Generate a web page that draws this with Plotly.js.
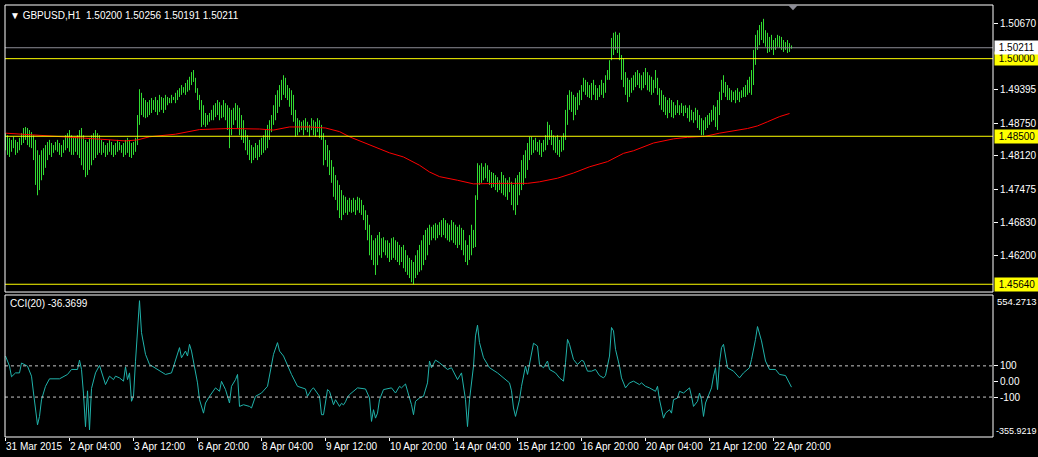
<!DOCTYPE html>
<html>
<head>
<meta charset="utf-8">
<script src="https://cdn.plot.ly/plotly-3.0.1.min.js"></script>
<style>
html,body{margin:0;padding:0;background:#000;}
#chart{width:1038px;height:457px;}
</style>
</head>
<body>
<div id="chart"></div>
<script>
// ---- GBPUSD H1 bars (bar index 0 = 31 Mar 2015 20:00) ----
const barHigh = [
1.4856,1.4852,1.4847,1.4843,1.4849,1.4843,1.4839,1.4847,1.4856,1.4866,
1.4868,1.4866,1.4862,1.4858,1.4852,1.4843,1.4823,1.4814,1.4823,1.4827,
1.4833,1.4839,1.4843,1.4837,1.4833,1.4839,1.4843,1.4837,1.4833,1.4843,
1.4852,1.4856,1.4862,1.4852,1.4847,1.4849,1.4852,1.4862,1.4866,1.4852,
1.4843,1.4839,1.4847,1.4852,1.4856,1.4862,1.4856,1.4852,1.4843,1.4839,
1.4833,1.4837,1.4843,1.4839,1.4833,1.4837,1.4843,1.4839,1.4833,1.4837,
1.4843,1.4847,1.4843,1.4837,1.4839,1.4847,1.4891,1.4941,1.4934,1.4924,
1.4920,1.4916,1.4920,1.4924,1.4920,1.4926,1.4920,1.4930,1.4926,1.4924,
1.4930,1.4926,1.4924,1.4930,1.4926,1.4934,1.4939,1.4943,1.4949,1.4945,
1.4953,1.4959,1.4965,1.4974,1.4978,1.4963,1.4943,1.4930,1.4920,1.4910,
1.4895,1.4891,1.4895,1.4901,1.4910,1.4914,1.4920,1.4916,1.4910,1.4920,
1.4914,1.4910,1.4905,1.4901,1.4905,1.4914,1.4910,1.4905,1.4891,1.4881,
1.4862,1.4852,1.4843,1.4833,1.4829,1.4837,1.4833,1.4843,1.4847,1.4852,
1.4862,1.4872,1.4881,1.4891,1.4910,1.4930,1.4939,1.4949,1.4959,1.4968,
1.4963,1.4949,1.4943,1.4939,1.4930,1.4901,1.4885,1.4881,1.4878,1.4881,
1.4885,1.4878,1.4872,1.4885,1.4881,1.4878,1.4885,1.4881,1.4872,1.4856,
1.4843,1.4833,1.4823,1.4804,1.4791,1.4775,1.4765,1.4756,1.4746,1.4736,
1.4733,1.4727,1.4731,1.4727,1.4731,1.4727,1.4733,1.4731,1.4727,1.4717,
1.4707,1.4698,1.4679,1.4659,1.4649,1.4653,1.4659,1.4665,1.4653,1.4655,
1.4649,1.4649,1.4644,1.4653,1.4655,1.4649,1.4646,1.4640,1.4636,1.4640,
1.4630,1.4620,1.4615,1.4611,1.4607,1.4620,1.4630,1.4640,1.4649,1.4659,
1.4669,1.4673,1.4679,1.4675,1.4679,1.4682,1.4679,1.4684,1.4688,1.4692,
1.4688,1.4682,1.4679,1.4688,1.4684,1.4679,1.4675,1.4679,1.4673,1.4669,
1.4649,1.4640,1.4659,1.4679,1.4669,1.4736,1.4798,1.4794,1.4798,1.4791,
1.4798,1.4794,1.4785,1.4781,1.4779,1.4775,1.4771,1.4765,1.4781,1.4775,
1.4769,1.4765,1.4771,1.4762,1.4756,1.4769,1.4775,1.4781,1.4804,1.4814,
1.4823,1.4837,1.4849,1.4849,1.4843,1.4847,1.4839,1.4843,1.4837,1.4843,
1.4852,1.4878,1.4872,1.4862,1.4852,1.4849,1.4852,1.4843,1.4849,1.4856,
1.4901,1.4930,1.4939,1.4936,1.4930,1.4926,1.4934,1.4939,1.4949,1.4963,
1.4959,1.4955,1.4949,1.4953,1.4959,1.4949,1.4943,1.4949,1.4959,1.4953,
1.4968,1.4978,1.4997,1.5040,1.5050,1.5052,1.5046,1.5050,1.5007,1.5001,
1.4974,1.4963,1.4959,1.4963,1.4968,1.4974,1.4978,1.4972,1.4968,1.4974,
1.4982,1.4974,1.4968,1.4965,1.4959,1.4978,1.4963,1.4943,1.4939,1.4930,
1.4926,1.4920,1.4924,1.4920,1.4916,1.4910,1.4920,1.4910,1.4914,1.4909,
1.4910,1.4905,1.4910,1.4901,1.4897,1.4905,1.4901,1.4891,1.4885,1.4881,
1.4887,1.4891,1.4895,1.4901,1.4910,1.4907,1.4920,1.4936,1.4959,1.4968,
1.4955,1.4949,1.4943,1.4939,1.4936,1.4939,1.4943,1.4936,1.4939,1.4945,
1.4949,1.4959,1.4965,1.4978,1.5017,1.5046,1.5055,1.5065,1.5071,1.5077,
1.5055,1.5050,1.5042,1.5046,1.5036,1.5040,1.5046,1.5044,1.5042,1.5036,
1.5032,1.5036,1.5030,1.50256
];
const barLow = [
1.4823,1.4814,1.4810,1.4820,1.4827,1.4814,1.4818,1.4823,1.4833,1.4837,
1.4843,1.4833,1.4829,1.4827,1.4804,1.4756,1.4736,1.4746,1.4765,1.4775,
1.4789,1.4804,1.4814,1.4810,1.4818,1.4823,1.4820,1.4814,1.4810,1.4818,
1.4823,1.4827,1.4820,1.4814,1.4814,1.4820,1.4814,1.4808,1.4794,1.4785,
1.4771,1.4775,1.4785,1.4794,1.4804,1.4808,1.4814,1.4818,1.4814,1.4818,
1.4810,1.4814,1.4820,1.4814,1.4810,1.4814,1.4820,1.4823,1.4818,1.4810,
1.4814,1.4818,1.4810,1.4808,1.4814,1.4820,1.4833,1.4872,1.4891,1.4887,
1.4885,1.4887,1.4891,1.4895,1.4901,1.4897,1.4891,1.4897,1.4901,1.4895,
1.4901,1.4910,1.4914,1.4914,1.4920,1.4914,1.4920,1.4926,1.4930,1.4934,
1.4930,1.4936,1.4939,1.4949,1.4955,1.4934,1.4920,1.4901,1.4868,1.4872,
1.4868,1.4872,1.4878,1.4881,1.4881,1.4887,1.4891,1.4881,1.4885,1.4887,
1.4881,1.4862,1.4827,1.4852,1.4872,1.4881,1.4866,1.4852,1.4843,1.4837,
1.4823,1.4814,1.4804,1.4798,1.4804,1.4808,1.4804,1.4810,1.4814,1.4818,
1.4823,1.4827,1.4843,1.4858,1.4872,1.4881,1.4895,1.4907,1.4920,1.4930,
1.4924,1.4920,1.4907,1.4891,1.4878,1.4849,1.4852,1.4858,1.4862,1.4852,
1.4862,1.4858,1.4849,1.4862,1.4852,1.4849,1.4858,1.4847,1.4843,1.4794,
1.4804,1.4791,1.4775,1.4760,1.4733,1.4727,1.4707,1.4692,1.4688,1.4698,
1.4702,1.4698,1.4704,1.4702,1.4704,1.4698,1.4707,1.4702,1.4698,1.4688,
1.4669,1.4649,1.4620,1.4611,1.4601,1.4582,1.4601,1.4620,1.4615,1.4626,
1.4620,1.4615,1.4607,1.4611,1.4615,1.4611,1.4607,1.4601,1.4607,1.4595,
1.4588,1.4582,1.4576,1.4568,1.4564,1.4576,1.4582,1.4588,1.4591,1.4601,
1.4611,1.4620,1.4640,1.4649,1.4653,1.4649,1.4653,1.4659,1.4655,1.4659,
1.4653,1.4649,1.4646,1.4649,1.4644,1.4640,1.4634,1.4640,1.4630,1.4620,
1.4607,1.4601,1.4611,1.4620,1.4634,1.4636,1.4727,1.4756,1.4760,1.4765,
1.4769,1.4762,1.4756,1.4750,1.4752,1.4746,1.4742,1.4746,1.4740,1.4736,
1.4733,1.4727,1.4742,1.4717,1.4707,1.4698,1.4717,1.4736,1.4746,1.4756,
1.4769,1.4785,1.4804,1.4814,1.4818,1.4823,1.4820,1.4814,1.4810,1.4820,
1.4823,1.4833,1.4843,1.4833,1.4823,1.4818,1.4814,1.4810,1.4820,1.4823,
1.4843,1.4872,1.4901,1.4897,1.4881,1.4891,1.4901,1.4910,1.4920,1.4936,
1.4930,1.4926,1.4924,1.4920,1.4930,1.4920,1.4920,1.4926,1.4930,1.4924,
1.4934,1.4959,1.4959,1.4997,1.5007,1.5017,1.5011,1.4997,1.4959,1.4945,
1.4930,1.4916,1.4926,1.4934,1.4939,1.4945,1.4949,1.4943,1.4939,1.4943,
1.4949,1.4939,1.4936,1.4930,1.4934,1.4943,1.4930,1.4910,1.4901,1.4897,
1.4891,1.4885,1.4895,1.4887,1.4885,1.4891,1.4895,1.4891,1.4895,1.4889,
1.4895,1.4885,1.4878,1.4881,1.4876,1.4881,1.4866,1.4862,1.4852,1.4852,
1.4862,1.4866,1.4872,1.4878,1.4881,1.4868,1.4862,1.4891,1.4920,1.4934,
1.4926,1.4920,1.4920,1.4916,1.4920,1.4914,1.4920,1.4916,1.4924,1.4926,
1.4926,1.4930,1.4934,1.4930,1.4949,1.4988,1.5017,1.5026,1.5036,1.5030,
1.5023,1.5011,1.5013,1.5017,1.5007,1.5017,1.5023,1.5021,1.5017,1.5013,
1.5017,1.5011,1.5013,1.50191
];

// ---- Moving average (red), sampled at bar indices ----
const maIdx = [0,18,32,45,60,66,72,85,97,112,127,134,142,152,160,167,172,184,192,199,207,212,217,226,234,247,261,267,276,284,292,301,309,314,324,334,341,350,357,371,376,381,387,392];
const maVal = [1.4856,1.4852,1.4849,1.4845,1.4841,1.4843,1.4849,1.4854,1.4863,1.4865,1.4864,1.4862,1.4868,1.4868,1.4866,1.4859,1.4849,1.4830,1.4818,1.4810,1.4794,1.4781,1.4772,1.4765,1.4758,1.4759,1.4759,1.4762,1.4769,1.4779,1.4791,1.4801,1.4817,1.4822,1.4837,1.4845,1.4848,1.4850,1.4856,1.4865,1.4870,1.4878,1.4888,1.4894];

// ---- CCI(20) ----
const cciIdx = [0,2,3,5,7,8,11,13,14,16,17,18,20,22,27,31,33,36,37,38,39,40,41,42,43,45,47,48,50,52,54,55,57,59,60,61,62,63,64,65,67,68,70,72,76,80,83,86,87,88,90,91,92,93,96,97,99,100,102,105,107,108,110,112,113,115,116,117,119,122,123,125,128,131,133,134,136,137,139,141,143,146,148,150,151,153,154,157,158,159,161,162,164,165,167,168,169,170,171,172,176,180,182,183,184,185,186,187,189,192,193,195,197,198,200,202,203,204,205,207,209,211,212,213,215,217,221,223,226,228,229,230,231,232,234,235,236,237,239,242,246,249,252,253,254,255,257,258,260,261,263,264,266,267,269,271,272,275,277,279,280,281,282,284,286,288,289,291,293,295,297,299,300,302,303,304,305,307,308,310,312,314,317,318,320,322,325,326,327,329,330,331,332,333,334,336,337,339,340,342,343,344,346,347,348,349,350,352,353,354,355,356,357,358,359,361,364,367,369,372,373,375,376,378,380,382,385,387,390,393];
const cciVal = [163,98,30,55,55,118,98,34,-74,-278,-224,-117,-31,17,17,45,77,77,137,77,-80,-290,-60,-310,-45,55,103,66,-20,34,12,34,23,2,94,12,55,-127,-95,130,518,313,174,109,77,45,55,174,217,152,195,163,238,195,-9,-117,-203,-138,-95,-41,-63,1,-52,-138,-31,12,45,-160,-149,-160,-170,-95,-74,-31,98,174,249,195,163,98,45,-31,-41,-48,-95,-52,-41,-95,-213,-213,-52,-63,-149,-117,-160,-140,-150,-130,-100,-84,-41,-48,-106,-256,-181,-235,-203,-117,-52,-41,-41,-74,-31,-41,-16,-106,-149,-213,-127,-106,-95,-9,131,88,137,120,77,88,12,55,-31,-117,-289,-117,98,292,361,249,152,88,55,23,-9,-60,-170,-224,-117,-31,98,45,174,245,227,109,88,131,77,55,23,2,120,270,238,141,109,135,131,66,66,77,38,23,38,163,346,324,206,98,23,-41,-9,2,-20,-9,-31,-41,-63,-31,-117,-235,-203,-190,-181,-203,-117,-106,-63,-74,-63,-41,-95,-160,-127,-74,-117,-224,-138,-74,-41,34,88,-52,120,217,238,88,66,23,55,88,141,270,352,260,131,77,77,45,38,-36.3699];

// ---- axis labels & levels ----
const timeTickIdx = [0,32,64,96,128,160,192,224,256,288,320,352,384];
const timeTickText = ["31 Mar 2015","2 Apr 04:00","3 Apr 12:00","6 Apr 20:00","8 Apr 04:00","9 Apr 12:00","10 Apr 20:00","14 Apr 04:00","15 Apr 12:00","16 Apr 20:00","20 Apr 04:00","21 Apr 12:00","22 Apr 20:00"];
const priceTicks = [1.50670,1.49395,1.48750,1.48120,1.47475,1.46830,1.46200];
const levels = [1.50000,1.48500,1.45640];
const bidPrice = 1.50211;
const cciTicks = [100,0,-100];
const cciTickText = ["100","0.00","-100"];
const cciMax = 554.2713, cciMin = -355.9219;
const cciLevels = [100,-100];
const headerText = "GBPUSD,H1\u00a0\u00a01.50200 1.50256 1.50191 1.50211";
const cciLabel = "CCI(20) -36.3699";

// build bar segments
const bx = [], by = [];
for (let i = 0; i < barHigh.length; i++) {
  bx.push(i, i, null);
  by.push(barLow[i], barHigh[i], null);
}

const FONT = "Liberation Sans, Arial, sans-serif";
const mainDomain = [0.3356, 1];
const cciDomain = [0, 0.3287];

const traces = [
  {type:'scatter', mode:'lines', x:bx, y:by, xaxis:'x', yaxis:'y',
   line:{color:'#32dc32', width:1}, hoverinfo:'skip', connectgaps:false},
  {type:'scatter', mode:'lines', x:maIdx, y:maVal, xaxis:'x', yaxis:'y',
   line:{color:'#ff0000', width:1}, hoverinfo:'skip'},
  {type:'scatter', mode:'lines', x:cciIdx, y:cciVal, xaxis:'x', yaxis:'y2',
   line:{color:'#20b2aa', width:1}, hoverinfo:'skip'}
];

const shapes = [];
levels.forEach(v => shapes.push({type:'line', xref:'paper', x0:0, x1:1, yref:'y', y0:v, y1:v, line:{color:'#ffff00', width:1}}));
shapes.push({type:'line', xref:'paper', x0:0, x1:1, yref:'y', y0:bidPrice, y1:bidPrice, line:{color:'#8c8c96', width:1}});
cciLevels.forEach(v => shapes.push({type:'line', xref:'paper', x0:0, x1:1, yref:'y2', y0:v, y1:v, line:{color:'#c8c8c8', width:1, dash:'3px,3px'}}));
shapes.push({type:'rect', xref:'paper', x0:0, x1:1, yref:'paper', y0:mainDomain[0], y1:mainDomain[1], line:{color:'#ffffff', width:1}});
shapes.push({type:'rect', xref:'paper', x0:0, x1:1, yref:'paper', y0:cciDomain[0], y1:cciDomain[1], line:{color:'#ffffff', width:1}});
// chart-shift marker
shapes.push({type:'path', xref:'paper', yref:'paper', path:'M 0.7925 1.0 L 0.8026 1.0 L 0.7976 0.988 Z', fillcolor:'#8c8c96', line:{width:0}});

const annotations = [];
annotations.push({xref:'paper', yref:'paper', x:0, y:1, xanchor:'left', yanchor:'top', xshift:3, yshift:-3, showarrow:false,
  text:'\u25BC\u00a0'+headerText, font:{family:FONT, size:10, color:'#ffffff'}});
annotations.push({xref:'paper', yref:'paper', x:0, y:cciDomain[1], xanchor:'left', yanchor:'top', xshift:3, yshift:-1, showarrow:false,
  text:cciLabel, font:{family:FONT, size:10, color:'#ffffff'}});
levels.forEach(v => annotations.push({xref:'paper', x:1, yref:'y', y:v, xanchor:'left', yanchor:'middle', xshift:1, showarrow:false,
  text:'\u00a0'+v.toFixed(5)+'\u00a0', bgcolor:'#ffff00', borderpad:1, font:{family:FONT, size:10, color:'#000000'}}));
annotations.push({xref:'paper', x:1, yref:'y', y:bidPrice, xanchor:'left', yanchor:'middle', xshift:1, showarrow:false,
  text:'\u00a0'+bidPrice.toFixed(5)+'\u00a0', bgcolor:'#ffffff', borderpad:1, font:{family:FONT, size:10, color:'#000000'}});
annotations.push({xref:'paper', x:1, yref:'y2', y:cciMax, xanchor:'left', yanchor:'top', xshift:2, yshift:1, showarrow:false,
  text:cciMax.toFixed(4), font:{family:FONT, size:9.5, color:'#ffffff'}});
annotations.push({xref:'paper', x:1, yref:'y2', y:cciMin, xanchor:'left', yanchor:'bottom', xshift:1, yshift:-1, showarrow:false,
  text:cciMin.toFixed(4), font:{family:FONT, size:9, color:'#ffffff'}});

const layout = {
  width:1038, height:457,
  paper_bgcolor:'#000000', plot_bgcolor:'#000000',
  margin:{l:5, r:45, t:5, b:20},
  showlegend:false,
  font:{family:FONT, size:10, color:'#ffffff'},
  xaxis:{anchor:'y2', range:[-0.25, 493.75], tickmode:'array', tickvals:timeTickIdx, ticktext:timeTickText,
    tickangle:0, automargin:false,
    ticks:'outside', ticklen:3, tickcolor:'#ffffff', ticklabelposition:'outside right',
    tickfont:{family:FONT, size:10, color:'#ffffff'}, showgrid:false, zeroline:false, showline:false, fixedrange:true},
  yaxis:{domain:mainDomain, anchor:'x', side:'right', range:[1.45490, 1.51037], tickmode:'array',
    tickvals:priceTicks, ticktext:priceTicks.map(v=>v.toFixed(5)), ticks:'outside', ticklen:4, tickcolor:'#ffffff',
    tickfont:{family:FONT, size:10, color:'#ffffff'}, showgrid:false, zeroline:false, showline:false, automargin:false},
  yaxis2:{domain:cciDomain, anchor:'x', side:'right', range:[cciMin, cciMax], tickmode:'array',
    tickvals:cciTicks, ticktext:cciTickText, ticks:'outside', ticklen:4, tickcolor:'#ffffff',
    tickfont:{family:FONT, size:10, color:'#ffffff'}, showgrid:false, zeroline:false, showline:false, automargin:false},
  shapes:shapes,
  annotations:annotations
};

Plotly.newPlot('chart', traces, layout, {staticPlot:true, displayModeBar:false});
</script>
</body>
</html>
